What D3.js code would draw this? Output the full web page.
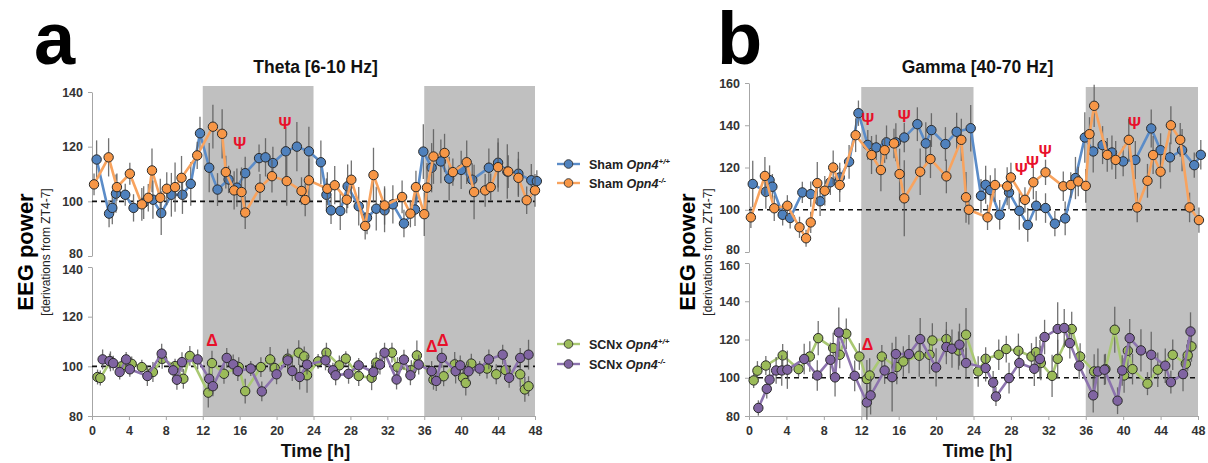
<!DOCTYPE html>
<html><head><meta charset="utf-8">
<script src="https://cdn.jsdelivr.net/npm/d3@7"></script>
<style>body{margin:0;background:#fff}svg{display:block;font-family:Arial,"Liberation Sans",sans-serif}</style>
</head><body><svg id="c" width="1208" height="463"></svg>
<script>
// ---------- DATA ----------
const xTicks = [0,4,8,12,16,20,24,28,32,36,40,44,48];
const thetaTicks = [80,100,120,140];
const gammaTicks = [80,100,120,140,160];
const darkPeriods = [[12,24],[36,48]];
const legendSham = ["Sham", "Sham"];
const legendScnx = ["SCNx", "SCNx"];
const genotypes = ["+/+", "-/-"];

// Theta, Sham Opn4+/+ (blue)
const thShamWT_t = [0.5,1.85,2.2,2.6,3.6,4.5,5.6,6.6,7.5,8.6,9.8,10.7,11.7,12.7,13.6,14.8,15.7,16.6,18.1,18.8,19.6,21.0,22.2,23.5,24.8,25.4,25.9,26.9,27.7,28.9,29.8,30.8,31.7,32.6,33.8,35.0,35.9,36.8,37.8,38.7,40.0,41.2,43.0,44.0,45.0,46.2,47.6,48.2];
const thShamWT_v = [115.3,95.5,97.6,102.8,102.4,97.6,99.5,100.6,95.7,102.4,102.4,106.4,124.9,112.3,104.3,108.0,105.0,110.3,115.8,116.1,114.0,118.3,120.0,118.3,114.3,102.4,96.7,96.5,105.5,98.2,94.0,97.3,96.7,98.9,91.9,97.0,118.2,112.3,114.6,108.3,111.5,107.9,112.3,114.1,110.9,110.1,107.7,107.4];
const thShamWT_e = [7,5,6,7,4,5,6,7,8,8,7,8,6,9,6,5,7,6,5,7,6,9,9,9,8,6,5,7,8,7,6,8,8,7,5,6,10,9,8,8,7,6,7,9,10,8,6,4];
// Theta, Sham Opn4-/- (orange)
const thShamKO_t = [0.22,1.8,2.7,4.1,5.4,6.1,6.5,7.4,8.1,9.0,9.7,11.4,13.1,14.1,14.5,15.4,16.2,16.6,18.2,19.5,21.1,22.7,23.1,23.5,25.5,26.3,27.6,28.1,29.6,30.5,31.7,33.6,34.5,35.1,36.0,36.3,37.0,38.2,39.1,40.6,41.4,42.6,43.2,44.0,45.1,46.2,47.1,48.0];
const thShamKO_v = [106.2,116.1,105.2,110.1,98.9,101.3,111.3,101.3,104.6,105.2,108.6,116.8,127.3,124.7,110.7,104.0,103.4,95.9,105.0,109.2,107.4,103.8,100.5,107.7,104.6,105.9,100.6,107.9,91.0,109.6,98.5,101.6,95.5,105.2,95.3,105.0,116.4,117.7,110.7,114.3,103.4,104.0,105.2,112.5,110.9,108.6,100.4,104.0];
const thShamKO_e = [4,7,5,4,6,5,8,7,6,9,8,5,8,9,6,7,9,6,5,6,9,5,6,8,6,7,5,7,5,10,7,6,5,6,8,9,10,7,5,8,10,6,5,9,6,7,5,6];
// Theta, SCNx Opn4+/+ (green)
const thScnxWT_t = [0.6,0.9,2.0,3.2,4.3,5.4,6.6,7.6,9.0,9.9,10.6,12.6,13.0,14.3,15.9,16.6,18.3,19.3,19.8,21.2,22.4,23.0,23.3,24.5,25.4,26.8,27.5,28.9,30.3,30.8,32.5,33.1,34.6,35.2,37.0,38.1,39.3,40.2,40.5,41.1,42.8,43.8,44.8,46.4,46.9,47.3];
const thScnxWT_v = [95.7,95.3,102.0,100.0,101.0,99.7,97.7,103.0,100.1,95.0,104.2,89.4,101.3,97.0,99.7,90.0,99.7,102.8,99.3,103.1,105.5,104.0,96.4,102.0,105.5,100.4,103.1,96.1,95.4,101.5,105.5,99.7,98.4,104.4,94.6,96.0,100.8,95.4,93.3,101.1,99.1,96.8,98.5,96.8,90.7,92.0];
const thScnxWT_e = [3,3,4,3,3,3,4,4,3,4,4,6,5,4,4,5,4,5,4,4,5,4,7,3,4,4,3,4,5,4,4,4,4,6,4,4,5,4,5,4,4,4,4,5,5,4];
// Theta, SCNx Opn4-/- (purple)
const thScnxKO_t = [1.15,1.9,2.3,3.0,3.7,4.1,6.0,7.55,8.8,9.2,9.75,11.45,12.7,13.1,14.6,15.3,15.8,17.2,18.4,20.0,21.2,21.7,22.5,23.3,25.3,26.1,26.4,27.8,28.9,30.5,31.2,31.7,33.0,33.8,34.5,35.4,36.8,37.3,37.9,39.4,39.9,40.8,42.0,43.0,44.5,45.2,46.4,47.3];
const thScnxKO_v = [102.8,102.1,101.3,97.7,102.8,98.8,96.1,105.1,98.4,94.6,101.7,102.8,95.0,92.0,103.4,100.8,98.1,99.1,89.9,96.8,102.4,98.1,95.7,100.7,102.4,98.4,96.4,97.0,100.4,97.7,100.7,105.5,94.7,102.7,96.4,100.7,98.1,94.1,103.4,98.1,100.4,98.0,99.1,102.8,104.7,95.4,103.4,104.7];
const thScnxKO_e = [4,3,3,3,3,3,4,4,3,4,4,4,5,4,4,4,4,3,4,4,4,4,5,4,4,3,4,4,3,4,4,4,4,4,4,4,4,4,4,5,4,4,3,4,4,4,4,6];

// Gamma, Sham Opn4+/+ (blue)
const gaShamWT_t = [0.4,1.8,2.2,2.5,3.6,4.4,5.7,6.6,7.6,8.7,9.7,10.7,11.7,12.7,13.6,14.7,15.7,16.6,18.0,18.9,19.5,21.0,22.2,23.7,24.8,25.3,25.8,26.8,27.8,28.9,29.8,30.7,31.7,32.7,33.8,34.9,35.9,36.8,37.8,38.8,40.0,41.3,43.0,44.0,45.0,46.3,47.6,48.3];
const gaShamWT_v = [112.2,108.5,114.0,110.9,97.6,96.1,108.2,107.4,104.0,113.0,115.3,122.7,145.7,130.7,129.5,131.9,131.9,134.2,140.5,131.4,137.7,131.1,136.9,138.6,106.6,111.8,109.3,97.6,108.2,99.5,92.8,101.9,100.8,93.4,95.9,115.0,134.2,127.6,130.6,127.1,122.9,123.6,138.5,128.2,124.8,128.2,121.1,126.0];
const gaShamWT_e = [11,8,7,6,5,5,5,6,7,6,7,8,6,7,6,8,9,7,8,10,8,8,9,11,8,9,7,7,8,9,8,7,7,6,8,10,12,10,9,8,7,9,9,8,7,10,6,7];
// Gamma, Sham Opn4-/- (orange)
const gaShamKO_t = [0.2,1.7,2.7,4.1,5.4,6.1,6.6,7.3,8.1,9.0,9.7,11.4,13.1,14.1,14.5,15.5,16.1,16.6,18.3,19.4,21.1,22.7,23.2,23.5,25.5,26.3,27.6,28.0,29.5,30.4,31.7,33.6,34.4,35.2,36.0,36.4,36.9,38.3,39.2,40.6,41.5,42.6,43.2,44.0,45.1,46.1,47.1,48.1];
const gaShamKO_v = [96.4,116.0,100.7,101.9,91.7,86.5,94.0,112.6,109.0,120.0,111.7,135.3,125.9,118.8,128.2,131.4,116.9,105.4,118.0,124.0,115.8,133.1,105.9,100.0,96.4,111.7,111.1,115.3,104.7,113.0,117.7,111.1,111.7,113.4,111.3,135.8,149.2,126.0,123.6,133.1,101.1,113.7,125.9,118.0,140.0,133.1,101.1,95.1];
const gaShamKO_e = [5,9,6,5,5,4,5,10,7,8,8,8,9,10,6,7,12,18,11,9,8,10,12,7,6,8,9,7,6,8,6,7,6,7,8,8,10,8,9,10,7,8,9,8,9,8,7,6];
// Gamma, SCNx Opn4+/+ (green)
const gaScnxWT_t = [0.5,0.9,1.8,3.6,5.3,6.5,7.4,9.0,9.7,10.4,11.8,12.6,12.9,14.2,15.8,16.5,18.2,19.3,19.6,21.1,22.4,23.2,24.5,25.3,26.7,27.5,28.8,30.2,30.7,31.2,32.4,33.0,34.5,35.4,36.9,38.1,39.1,40.1,40.5,41.0,42.6,43.7,45.3,46.7,46.9,47.3];
const gaScnxWT_v = [98.6,103.7,106.4,111.7,104.5,111.1,120.7,115.5,112.0,123.0,111.1,99.3,101.2,111.1,105.6,108.5,111.5,112.0,119.5,120.2,114.2,122.5,103.3,109.9,112.0,115.0,114.1,111.1,113.4,107.7,101.0,109.9,125.5,111.1,103.3,104.5,125.1,101.2,114.1,104.5,96.9,104.2,112.0,107.3,111.7,116.4];
const gaScnxWT_e = [4,5,5,6,4,8,9,8,7,8,7,10,9,6,9,8,11,10,9,9,10,14,8,6,8,7,9,7,8,9,11,10,9,7,9,8,12,9,9,8,6,9,8,7,8,8];
// Gamma, SCNx Opn4-/- (purple)
const gaScnxKO_t = [1.0,1.9,2.2,2.9,3.5,4.1,5.9,7.3,8.7,9.2,9.6,11.3,12.6,13.0,14.5,15.3,15.7,17.1,18.3,20.0,21.1,21.7,22.5,23.2,25.3,26.1,26.4,27.8,28.9,30.5,31.1,31.6,33.0,33.7,34.3,35.3,36.8,37.3,38.0,39.4,39.9,40.7,41.9,43.0,44.5,45.1,46.4,47.2];
const gaScnxKO_v = [84.2,94.2,99.0,103.8,103.8,104.2,109.8,101.2,109.4,100.2,123.7,101.0,87.1,90.8,103.8,100.3,112.4,112.4,120.2,105.4,116.1,115.2,117.3,107.7,105.1,97.5,90.2,99.8,107.7,104.7,109.8,121.3,125.5,126.0,118.1,106.3,90.8,103.3,104.2,88.0,103.8,120.7,114.3,112.0,106.3,97.7,101.9,124.2];
const gaScnxKO_e = [4,5,6,7,8,10,8,8,9,10,13,8,9,10,7,18,9,10,11,10,9,10,11,8,7,6,5,8,7,9,10,9,14,10,8,7,9,12,8,7,8,10,11,12,9,6,9,10];

// significance markers [time, value]
const thetaPsi_t = [16.0, 20.9], thetaPsi_v = [121.2, 128.5];
const thetaDelta_t = [13.0, 36.8, 38.0], thetaDelta_v = [110.5, 108.2, 110.5];
const gammaPsi_t = [12.7, 16.6, 29.1, 30.3, 31.66, 41.2], gammaPsi_v = [142.9, 144.4, 119.5, 122.4, 127.9, 141.3];
const gammaDelta_t = [12.67], gammaDelta_v = [117.6];

// ---------- STYLE ----------
const COL = {
  blue:{fill:"#4f81bd", line:"#5b8cc8"},
  orange:{fill:"#f79646", line:"#f8a35e"},
  green:{fill:"#9bbb59", line:"#a9c873"},
  purple:{fill:"#8064a2", line:"#8c73ad"}
};
const svg = d3.select("#c");
const SHADE = "#c0c0c0";

function zip(t,v,e){ return t.map((d,i)=>({t:d, v:v[i], e:e?e[i]:0})); }

function styleAxis(ax){
  ax.select(".domain").attr("stroke","#a6a6a6");
  ax.selectAll(".tick line").attr("stroke","#a6a6a6");
  ax.selectAll("text").attr("font-size",12.5).attr("font-weight","bold").attr("fill","#333")
    .attr("font-family","Arial, Liberation Sans, sans-serif");
}

function drawPanel(cfg){
  const g = svg.append("g");
  const x = d3.scaleLinear().domain([0,48]).range(cfg.xr);
  const yT = d3.scaleLinear().domain(cfg.dom).range(cfg.yTop);
  const yB = d3.scaleLinear().domain(cfg.dom).range(cfg.yBot);
  const maxV = cfg.dom[1], minV = cfg.dom[0];
  // shading
  darkPeriods.forEach(p=>{
    g.append("rect").attr("x",x(p[0])).attr("width",x(p[1])-x(p[0]))
     .attr("y",cfg.shadeTop).attr("height",cfg.yBot[0]-cfg.shadeTop).attr("fill",SHADE);
  });
  // axes
  const axT = g.append("g").attr("transform",`translate(${cfg.xr[0]},0)`)
      .call(d3.axisLeft(yT).tickValues(cfg.ticks).tickSize(4).tickPadding(5).tickSizeOuter(0));
  styleAxis(axT);
  axT.selectAll(".tick").filter(d=>d===minV).select("text").attr("dy","0.1em");
  const axB = g.append("g").attr("transform",`translate(${cfg.xr[0]},0)`)
      .call(d3.axisLeft(yB).tickValues(cfg.ticks).tickSize(4).tickPadding(5).tickSizeOuter(0));
  styleAxis(axB);
  axB.selectAll(".tick").filter(d=>d===maxV).select("text").attr("dy","0.55em");

  const xa = g.append("g").attr("transform",`translate(0,${cfg.yBot[0]})`)
    .call(d3.axisBottom(x).tickValues(xTicks).tickSize(4).tickPadding(6).tickSizeOuter(0));
  styleAxis(xa);

  // dashed 100 lines
  [yT,yB].forEach(y=>{
    g.append("line").attr("x1",x(0)).attr("x2",x(48)).attr("y1",y(100)).attr("y2",y(100))
      .attr("stroke","#111").attr("stroke-width",1.6).attr("stroke-dasharray","5,4");
  });

  function series(data, y){
    const sg = g.append("g");
    sg.selectAll("line.err").data(data).join("line").attr("class","err")
      .attr("x1",d=>x(d.t)).attr("x2",d=>x(d.t)).attr("y1",d=>y(d.v-d.e)).attr("y2",d=>y(d.v+d.e))
      .attr("stroke","#5a5a5a").attr("stroke-width",1.3).attr("opacity",0.85);
    return sg;
  }
  function lineMarks(sg, data, y, col){
    sg.append("path").datum(data).attr("fill","none").attr("stroke",col.line).attr("stroke-width",2.6)
      .attr("d", d3.line().x(d=>x(d.t)).y(d=>y(d.v)));
    sg.selectAll("circle").data(data).join("circle").attr("cx",d=>x(d.t)).attr("cy",d=>y(d.v)).attr("r",4.7)
      .attr("fill",col.fill).attr("stroke","#2a2a2a").attr("stroke-width",1);
  }
  const s = cfg.series;
  const g1 = series(s[0], yT), g2 = series(s[1], yT), g3 = series(s[2], yB), g4 = series(s[3], yB);
  lineMarks(g1, s[0], yT, COL.blue); lineMarks(g2, s[1], yT, COL.orange);
  lineMarks(g3, s[2], yB, COL.green); lineMarks(g4, s[3], yB, COL.purple);

  // significance symbols
  cfg.psi[0].forEach((t,i)=>{
    g.append("text").attr("x",x(t)).attr("y",yT(cfg.psi[1][i])+6).attr("text-anchor","middle")
      .attr("font-size",16).attr("font-weight","bold").attr("fill","#e8102a").text("Ψ");
  });
  cfg.delta[0].forEach((t,i)=>{
    g.append("text").attr("x",x(t)).attr("y",yB(cfg.delta[1][i])+6).attr("text-anchor","middle")
      .attr("font-size",16).attr("font-weight","bold").attr("fill","#e8102a").text("Δ");
  });

  // titles
  g.append("text").attr("x",cfg.letterX).attr("y",64).attr("font-size",74).attr("font-weight","bold").attr("fill","#000").text(cfg.letter);
  g.append("text").attr("x",(cfg.xr[0]+cfg.xr[1])/2+cfg.titleDx).attr("y",73).attr("text-anchor","middle")
    .attr("font-size",17.5).attr("font-weight","bold").attr("fill","#111").text(cfg.title);
  g.append("text").attr("x",(cfg.xr[0]+cfg.xr[1])/2+cfg.titleDx).attr("y",457).attr("text-anchor","middle")
    .attr("font-size",18).attr("font-weight","bold").attr("fill","#111").text("Time [h]");
  const yl = g.append("g").attr("transform",`translate(${cfg.ylabX},${cfg.ylabY}) rotate(-90)`);
  yl.append("text").attr("x",0).attr("y",0).attr("text-anchor","middle").attr("font-size",22).attr("font-weight","bold").attr("fill","#000").text("EEG power");
  yl.append("text").attr("x",0).attr("y",17).attr("text-anchor","middle").attr("font-size",12).attr("fill","#222").text("[derivations from ZT4-7]");
  return {x, yT, yB};
}

drawPanel({
  xr:[92,535], dom:[80,140], yTop:[256,92], yBot:[416,267], ticks:thetaTicks, shadeTop:86,
  series:[zip(thShamWT_t,thShamWT_v,thShamWT_e), zip(thShamKO_t,thShamKO_v,thShamKO_e),
          zip(thScnxWT_t,thScnxWT_v,thScnxWT_e), zip(thScnxKO_t,thScnxKO_v,thScnxKO_e)],
  psi:[thetaPsi_t,thetaPsi_v], delta:[thetaDelta_t,thetaDelta_v],
  letter:"a", letterX:34, title:"Theta [6-10 Hz]", titleDx:2, ylabX:33, ylabY:252
});
drawPanel({
  xr:[749,1198], dom:[80,160], yTop:[252,83], yBot:[416,263], ticks:gammaTicks, shadeTop:87,
  series:[zip(gaShamWT_t,gaShamWT_v,gaShamWT_e), zip(gaShamKO_t,gaShamKO_v,gaShamKO_e),
          zip(gaScnxWT_t,gaScnxWT_v,gaScnxWT_e), zip(gaScnxKO_t,gaScnxKO_v,gaScnxKO_e)],
  psi:[gammaPsi_t,gammaPsi_v], delta:[gammaDelta_t,gammaDelta_v],
  letter:"b", letterX:717, title:"Gamma [40-70 Hz]", titleDx:4, ylabX:695, ylabY:252
});

// legend
const legItems = [
  {y:164, grp:legendSham[0], g:genotypes[0], c:COL.blue},
  {y:183, grp:legendSham[1], g:genotypes[1], c:COL.orange},
  {y:344, grp:legendScnx[0], g:genotypes[0], c:COL.green},
  {y:364, grp:legendScnx[1], g:genotypes[1], c:COL.purple}
];
const lg = svg.append("g");
legItems.forEach(d=>{
  lg.append("line").attr("x1",557).attr("x2",580).attr("y1",d.y).attr("y2",d.y).attr("stroke",d.c.line).attr("stroke-width",2.4);
  lg.append("circle").attr("cx",568.5).attr("cy",d.y).attr("r",4.3).attr("fill",d.c.fill).attr("stroke","#333").attr("stroke-width",0.9);
  const t = lg.append("text").attr("x",589).attr("y",d.y+4.5).attr("font-size",12.5).attr("fill","#222").attr("font-weight","bold");
  t.append("tspan").text(d.grp+" ");
  t.append("tspan").attr("font-style","italic").text("Opn4");
  t.append("tspan").attr("font-size",8).attr("dy",-5).attr("font-style","italic").text(d.g);
});
</script></body></html>
